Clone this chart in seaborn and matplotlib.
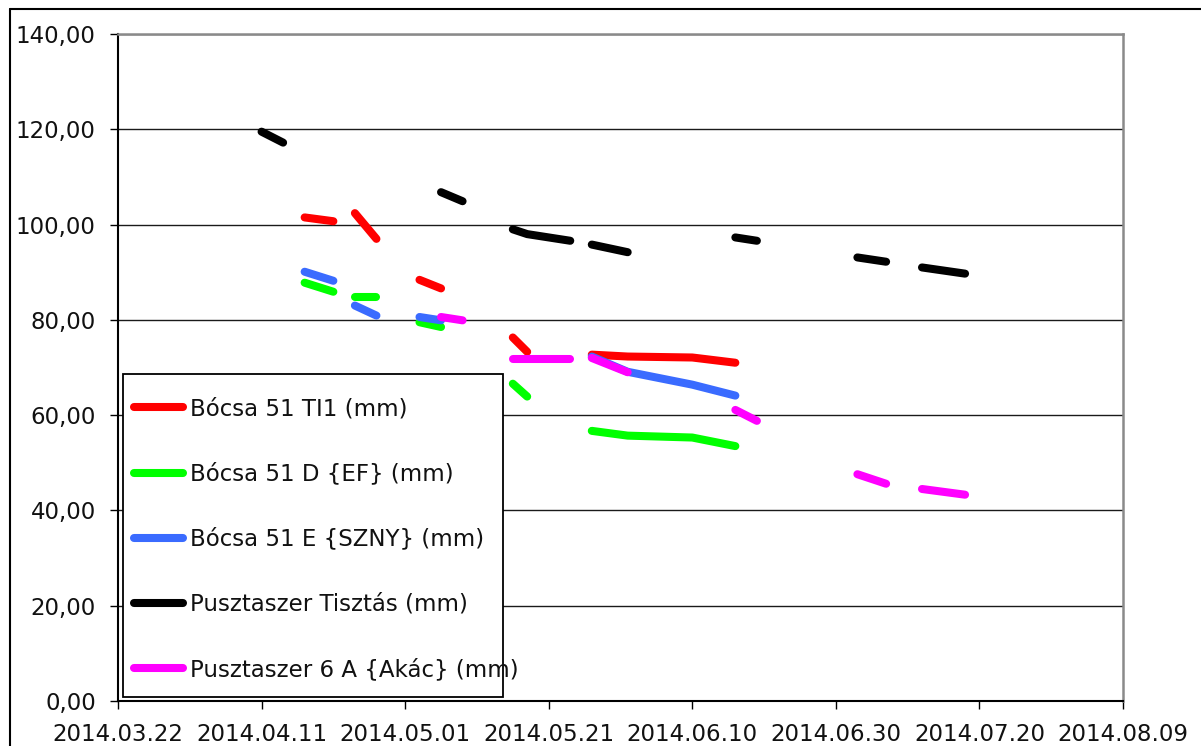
import numpy as np
import pandas as pd
import matplotlib
matplotlib.use("Agg")
import matplotlib.pyplot as plt
import matplotlib.dates as mdates
from matplotlib.lines import Line2D
from matplotlib.patches import Rectangle
from matplotlib.ticker import FuncFormatter
import seaborn as sns

nan = np.nan

# Measurement dates (rows with all-empty values act as gaps, like blank cells)
dates = ["2014-04-11", "2014-04-14", "2014-04-17", "2014-04-21", "2014-04-22",
         "2014-04-24", "2014-04-27", "2014-04-30", "2014-05-03", "2014-05-06",
         "2014-05-09", "2014-05-12", "2014-05-16", "2014-05-18", "2014-05-24",
         "2014-05-25", "2014-05-27", "2014-06-01", "2014-06-10", "2014-06-16",
         "2014-06-19", "2014-06-26", "2014-07-03", "2014-07-07", "2014-07-09",
         "2014-07-12", "2014-07-18"]

bocsa_ti1 = [nan, nan, 101.5, 100.7, nan, 102.4, 97.0, nan, 88.4, 86.6,
             nan, nan, 76.3, 73.3, nan, nan, 72.7, 72.3, 72.1, 71.0,
             nan, nan, nan, nan, nan, nan, nan]
bocsa_d = [nan, nan, 87.8, 85.9, nan, 84.9, 84.9, nan, 79.5, 78.5,
           nan, nan, 66.6, 63.9, nan, nan, 56.7, 55.7, 55.3, 53.5,
           nan, nan, nan, nan, nan, nan, nan]
bocsa_e = [nan, nan, 90.1, 88.2, nan, 83.0, 80.9, nan, 80.6, 79.9,
           nan, nan, nan, nan, nan, nan, 72.3, 69.1, 66.4, 64.1,
           nan, nan, nan, nan, nan, nan, nan]
puszta_tisztas = [119.5, 117.2, nan, nan, nan, nan, nan, nan, nan, 106.8,
                  104.9, nan, 99.0, 98.0, 96.6, nan, 95.8, 94.2, nan, 97.3,
                  96.6, nan, 93.1, 92.2, nan, 91.0, 89.7]
puszta_akac = [nan, nan, nan, nan, nan, nan, nan, nan, nan, 80.6,
               79.9, nan, 71.8, 71.8, 71.8, nan, 72.0, 69.0, nan, 61.1,
               58.8, nan, 47.6, 45.6, nan, 44.5, 43.3]

series_names = ["Bócsa 51 TI1 (mm)", "Bócsa 51 D {EF} (mm)", "Bócsa 51 E {SZNY} (mm)",
                "Pusztaszer Tisztás (mm)", "Pusztaszer 6 A {Akác} (mm)"]
series_values = [bocsa_ti1, bocsa_d, bocsa_e, puszta_tisztas, puszta_akac]
colors = ["#FF0000", "#00FF00", "#3A6BFF", "#000000", "#FF00FF"]

x_ticks = pd.date_range("2014-03-22", "2014-08-09", freq="20D")
y_ticks = [0, 20, 40, 60, 80, 100, 120, 140]

# long table with segment ids (contiguous non-empty runs)
rows = []
for name, vals in zip(series_names, series_values):
    seg = 0
    prev_ok = False
    for d, v in zip(dates, vals):
        ok = not np.isnan(v)
        if ok and not prev_ok:
            seg += 1
        if ok:
            rows.append({"date": pd.Timestamp(d), "value": v, "series": name,
                         "seg": f"{name}#{seg}"})
        prev_ok = ok
df = pd.DataFrame(rows)

sns.set_theme(style="white")
plt.rcParams["font.family"] = ["DejaVu Sans"]

fig = plt.figure(figsize=(12.01, 7.46), dpi=100)
ax = fig.add_axes([118 / 1201, 1 - 701 / 746, (1123 - 118) / 1201, (701 - 34) / 746])

lw = 5.8
for i, (name, col) in enumerate(zip(series_names, colors)):
    sub = df[df["series"] == name]
    sns.lineplot(data=sub, x="date", y="value", units="seg", estimator=None,
                 color=col, linewidth=lw, sort=False, legend=False, ax=ax,
                 zorder=3 + i)
for line in ax.get_lines():
    line.set_solid_capstyle("round")
    line.set_solid_joinstyle("round")

ax.set_xlim(x_ticks[0], x_ticks[-1])
ax.set_ylim(0, 140)
ax.set_xticks(x_ticks)
ax.xaxis.set_major_formatter(mdates.DateFormatter("%Y.%m.%d"))
ax.set_yticks(y_ticks)
ax.yaxis.set_major_formatter(FuncFormatter(lambda v, p: f"{v:.2f}".replace(".", ",")))
ax.set_xlabel("")
ax.set_ylabel("")

ax.grid(False)
ax.yaxis.grid(True, color="#1a1a1a", linewidth=1.0)
ax.set_axisbelow(True)

for s in ["left", "bottom"]:
    ax.spines[s].set_color("#000000")
    ax.spines[s].set_linewidth(1.5)
for s in ["top", "right"]:
    ax.spines[s].set_color("#8a8a8a")
    ax.spines[s].set_linewidth(1.8)

ax.tick_params(axis="both", which="major", direction="out", length=6, width=1.0,
               color="#000000", labelsize=16.5, labelcolor="#111111",
               left=True, bottom=True)
ax.tick_params(axis="y", pad=10)
ax.tick_params(axis="x", pad=10)

# legend frame box
ax.add_patch(Rectangle((5 / 1005, 4 / 667), 380 / 1005, 323 / 667,
                       transform=ax.transAxes, facecolor="white",
                       edgecolor="#000000", linewidth=1.3, zorder=20,
                       clip_on=False))

handles = [Line2D([0], [0], color=c, linewidth=lw, solid_capstyle="round")
           for c in colors]
leg = ax.legend(handles, series_names, loc="upper left",
                bbox_to_anchor=(9 / 1005, (701 - 390.5) / 667),
                borderaxespad=0, fontsize=16.5, frameon=False,
                handlelength=2.14, handletextpad=0.3, labelspacing=1.84,
                borderpad=0.3)
leg.set_zorder(21)
for t in leg.get_texts():
    t.set_color("#111111")

# outer chart-area border (top and left edges visible)
fig.add_artist(Line2D([10 / 1201, 1.0], [1 - 9 / 746, 1 - 9 / 746],
                      transform=fig.transFigure, color="#000000", linewidth=1.5))
fig.add_artist(Line2D([10 / 1201, 10 / 1201], [0.0, 1 - 9 / 746],
                      transform=fig.transFigure, color="#000000", linewidth=1.5))

fig.savefig("out.png", dpi=100)
